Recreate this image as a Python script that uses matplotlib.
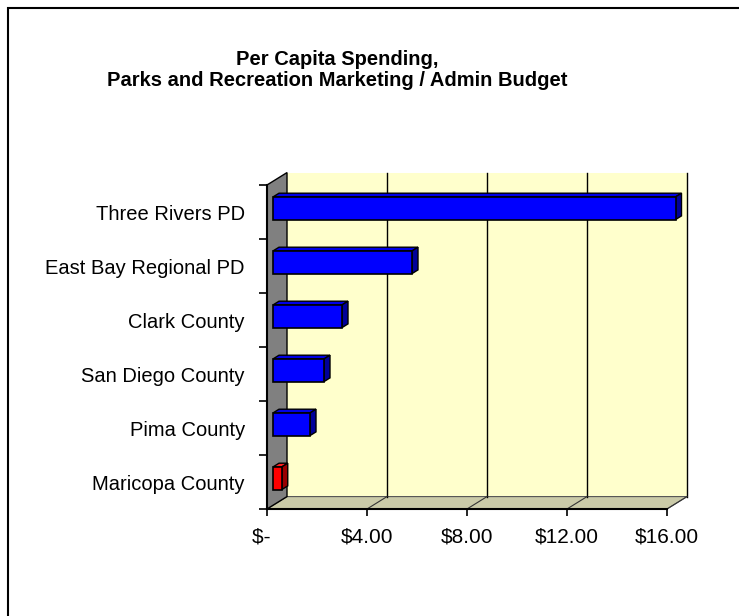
import matplotlib
matplotlib.use("Agg")
import matplotlib.pyplot as plt
from matplotlib.patches import Polygon, Rectangle

plt.rcParams['font.family'] = ['Liberation Sans', 'DejaVu Sans']

# data, bottom to top as drawn
categories = ['Maricopa County', 'Pima County', 'San Diego County',
              'Clark County', 'East Bay Regional PD', 'Three Rivers PD']
spending = [0.35, 1.48, 2.04, 2.76, 5.56, 16.1]
bar_colors = ['red', 'blue', 'blue', 'blue', 'blue', 'blue']
x_ticks = [0, 4, 8, 12, 16]
x_labels = ['$-  ', '$4.00', '$8.00', '$12.00', '$16.00']
title = 'Per Capita Spending,\nParks and Recreation Marketing / Admin Budget'

face = {'red': ('#FF0000', '#FF2020', '#990000'),
        'blue': ('#0000FF', '#0000E6', '#000099')}

W, H = 739, 616
fig = plt.figure(figsize=(W / 100, H / 100), dpi=100)
fig.patch.set_facecolor('white')

# front plane of the 3d box
ax = fig.add_axes([267 / W, 1 - 509 / H, 400 / W, 324 / H])
ax.set_xlim(0, 16)
ax.set_ylim(-0.5, len(categories) - 0.5)
ax.set_facecolor('none')

# depth offset of the box, in data units
DX = 0.8
DY = 0.23
top = len(categories) - 0.5
bot = -0.5

# walls and floor
ax.add_patch(Polygon([(DX, bot + DY), (16 + DX, bot + DY), (16 + DX, top + DY), (DX, top + DY)],
                     closed=True, facecolor='#FFFFCC', edgecolor='none', clip_on=False, zorder=0))
ax.add_patch(Polygon([(0, bot), (16, bot), (16 + DX, bot + DY), (DX, bot + DY)],
                     closed=True, facecolor='#CACAA8', edgecolor='#555555', lw=0.8, clip_on=False, zorder=1))
ax.add_patch(Polygon([(0, bot), (DX, bot + DY), (DX, top + DY), (0, top)],
                     closed=True, facecolor='#808080', edgecolor='black', lw=1.0, clip_on=False, zorder=1))

# gridlines on back wall and floor
for v in x_ticks[1:]:
    ax.plot([v + DX, v + DX], [bot + DY, top + DY], color='black', lw=1.0, clip_on=False, zorder=1)
    ax.plot([v, v + DX], [bot, bot + DY], color='#333333', lw=0.8, clip_on=False, zorder=1)

# bars
h = 0.42
f0, f1 = 0.3, 0.6
for i, (v, c) in enumerate(zip(spending, bar_colors)):
    front, topc, side = face[c]
    x0, y0 = f0 * DX, f0 * DY
    x1, y1 = f1 * DX, f1 * DY
    lo, hi = i - h / 2, i + h / 2
    ax.add_patch(Polygon([(x0, hi + y0), (v + x0, hi + y0), (v + x1, hi + y1), (x1, hi + y1)],
                         closed=True, facecolor=topc, edgecolor='black', lw=1.0, clip_on=False, zorder=3))
    ax.add_patch(Polygon([(v + x0, lo + y0), (v + x1, lo + y1), (v + x1, hi + y1), (v + x0, hi + y0)],
                         closed=True, facecolor=side, edgecolor='black', lw=1.0, clip_on=False, zorder=3))
    ax.add_patch(Rectangle((x0, lo + y0), v, h, facecolor=front, edgecolor='black',
                           lw=1.2, clip_on=False, zorder=4))

# axes
for s in ['top', 'right']:
    ax.spines[s].set_visible(False)
for s in ['left', 'bottom']:
    ax.spines[s].set_linewidth(1.5)
    ax.spines[s].set_zorder(5)

ax.set_yticks(range(len(categories)))
ax.set_yticklabels(categories, fontsize=14.5)
ax.set_yticks([k - 0.5 for k in range(len(categories) + 1)], minor=True)
ax.tick_params(axis='y', which='major', length=0, pad=16)
ax.tick_params(axis='y', which='minor', length=6, width=1.2)

ax.set_xticks(x_ticks)
ax.set_xticklabels(x_labels, fontsize=15)
ax.tick_params(axis='x', length=5, width=1.2, pad=8)

fig.text(337 / W, 1 - 50 / H, title, ha='center', va='top', fontsize=14.5,
         fontweight='bold', linespacing=1.1)

# chart area border
fig.patches.append(Rectangle((8 / W, -0.1), 1, (H - 8) / H + 0.1, transform=fig.transFigure,
                             fill=False, edgecolor='black', lw=1.5))

fig.savefig('out.png', dpi=100)
